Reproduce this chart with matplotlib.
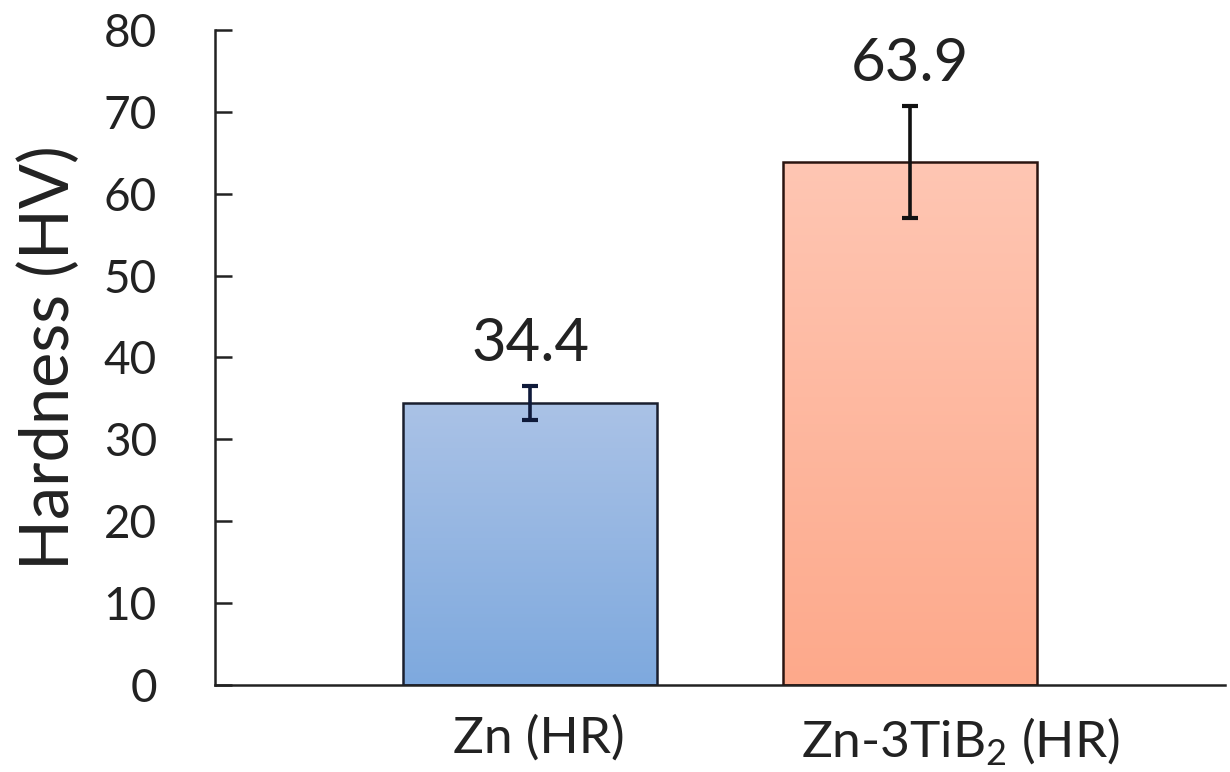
import numpy as np
import matplotlib
matplotlib.use("Agg")
import matplotlib.pyplot as plt
from matplotlib.colors import LinearSegmentedColormap

plt.rcParams["font.family"] = ["Lato", "DejaVu Sans"]
plt.rcParams["mathtext.fontset"] = "custom"
plt.rcParams["mathtext.rm"] = "Lato"

# data
samples = ["Zn (HR)", "Zn-3TiB$_2$ (HR)"]
hardness = [34.4, 63.9]
errors = [2.1, 6.8]
value_labels = ["34.4", "63.9"]

# (top colour, bottom colour) of each bar gradient
grads = [("#aac2e6", "#7ea9de"), ("#ffc6b3", "#fda98b")]
edges = ["#1a1f2e", "#2a1410"]
err_cols = ["#0f1a3a", "#111111"]
# the category labels sit a little right of the bar centres in the original (points)
label_shift = [6, 36]

fig = plt.figure(figsize=(12.3, 7.72), dpi=100)
ax = fig.add_axes([0.175, 0.113, 0.821, 0.848])

x = np.arange(len(samples))
bars = ax.bar(x, hardness, width=0.67, color="none", edgecolor=edges, linewidth=1.8, zorder=3)

for b, (top, bot) in zip(bars, grads):
    cmap = LinearSegmentedColormap.from_list("g", [bot, top])
    x0, y0 = b.get_x(), b.get_y()
    im = ax.imshow(np.linspace(0, 1, 256).reshape(-1, 1), cmap=cmap, origin="lower",
                   extent=[x0, x0 + b.get_width(), y0, y0 + b.get_height()],
                   aspect="auto", zorder=2)
    im.set_clip_path(b)

for xi, h, e, c in zip(x, hardness, errors, err_cols):
    ax.errorbar(xi, h, yerr=e, fmt="none", ecolor=c, elinewidth=2.6, capsize=6,
                capthick=3, zorder=4)

for xi, h, e, lab in zip(x, hardness, errors, value_labels):
    ax.annotate(lab, (xi, h + e), xytext=(0, 11), textcoords="offset points",
                ha="center", va="bottom", fontsize=43, color="#222")

# category labels as annotations so they can be nudged like the original
for xi, name, dx in zip(x, samples, label_shift):
    ax.annotate(name, (xi, 0), xycoords=ax.get_xaxis_transform(), xytext=(dx, -22),
                textcoords="offset points", ha="center", va="top", fontsize=37,
                color="#222", annotation_clip=False)

ax.set_xlim(-0.829, 1.829)
ax.set_ylim(0, 80)
ax.set_yticks(range(0, 81, 10))
ax.set_xticks([])
ax.tick_params(axis="y", direction="in", length=12.5, width=1.8, labelsize=33, pad=42, colors="#222")
ax.set_ylabel("Hardness (HV)", fontsize=48, labelpad=16, color="#222")

for s in ["top", "right"]:
    ax.spines[s].set_visible(False)
for s in ["left", "bottom"]:
    ax.spines[s].set_linewidth(1.8)
    ax.spines[s].set_color("#222")

fig.savefig("out.png", dpi=100)
